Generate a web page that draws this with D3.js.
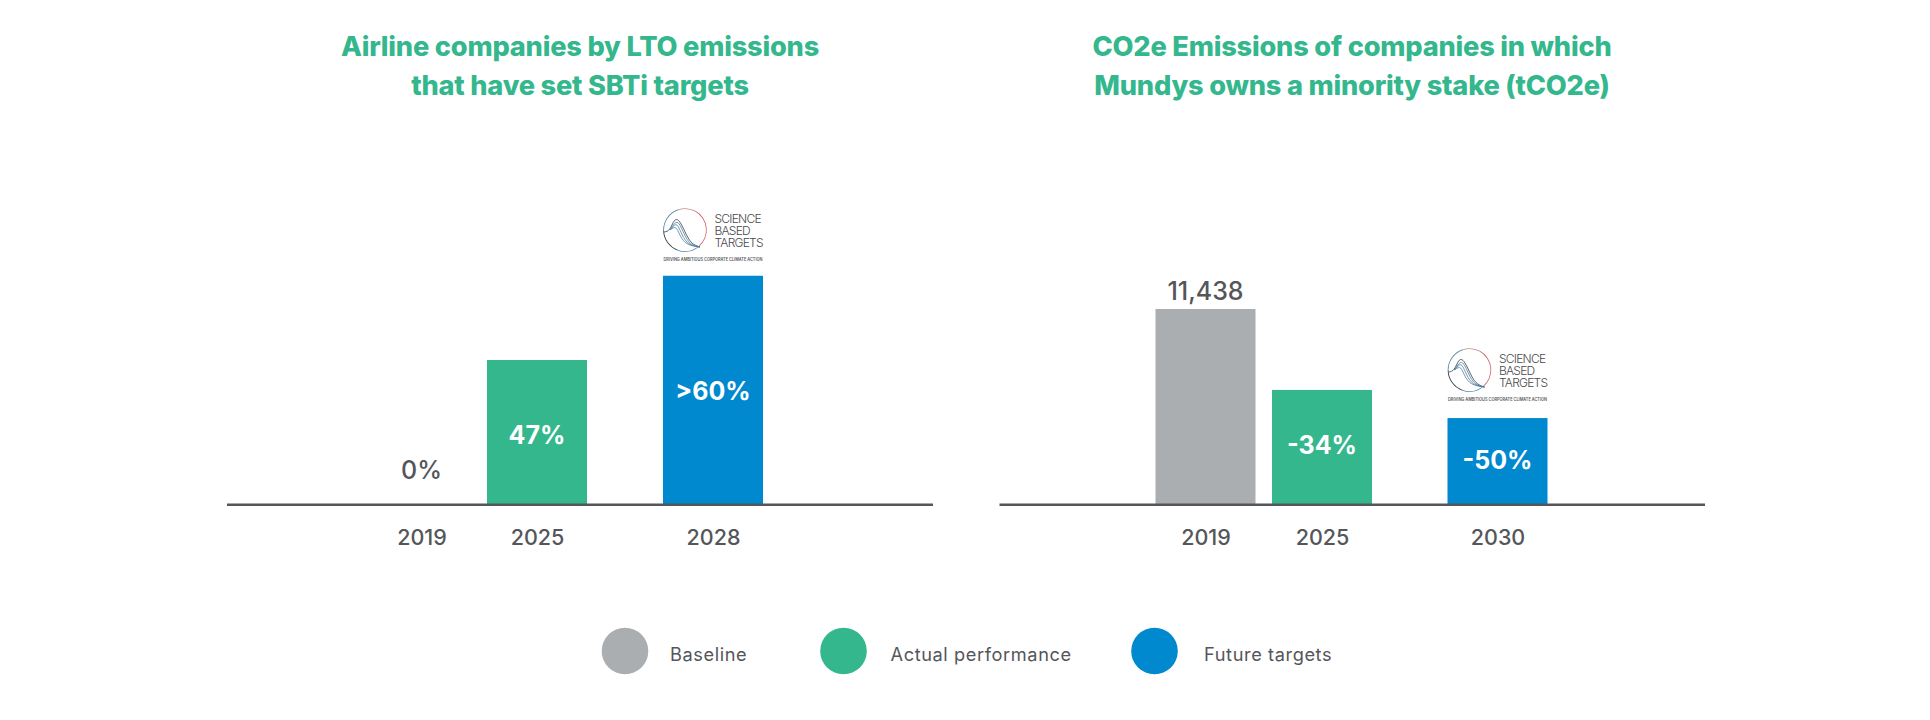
<!DOCTYPE html>
<html>
<head>
<meta charset="utf-8">
<script src="https://cdn.jsdelivr.net/npm/d3@7"></script>
<style>
  html, body { margin: 0; background: #fff; }
  text { font-family: Inter, sans-serif; }
</style>
</head>
<body>
<svg id="chart" width="1930" height="720"></svg>
<script>
// values
const leftYears = ["2019", "2025", "2028"];
const leftValues = [0, 47, 74.5]; // the >60% bar is drawn taller than its label says
const leftLabels = ["0%", "47%", ">60%"];
const leftKinds = ["Baseline", "Actual performance", "Future targets"];

const rightYears = ["2019", "2025", "2030"];
const rightValues = [11438, 6690, 5040];
const rightLabels = ["11,438", "-34%", "-50%"];
const rightKinds = ["Baseline", "Actual performance", "Future targets"];

const leftTitle = ["Airline companies by LTO emissions", "that have set SBTi targets"];
const rightTitle = ["CO2e Emissions of companies in which", "Mundys owns a minority stake (tCO2e)"];

const legendNames = ["Baseline", "Actual performance", "Future targets"];
const legendColors = ["#abaeb0", "#35b78e", "#0089cf"];

const GREEN = "#35b78e", TEXT = "#54565a";
const BASE_Y = 504, BAR_W = 100;

const svg = d3.select("#chart");
const color = d3.scaleOrdinal().domain(legendNames).range(legendColors);

// one panel: title, bars, labels, axis
function panel(opts) {
  const g = svg.append("g");
  const x = d3.scaleOrdinal().domain(opts.years).range(opts.centers);
  const y = d3.scaleLinear().domain(opts.yDomain).range([BASE_Y, opts.yTop]);
  const rows = opts.years.map((d, i) => ({ year: d, value: opts.values[i], label: opts.labels[i], kind: opts.kinds[i], dy: opts.labelDy[i] }));

  g.selectAll("text.title")
    .data(opts.title)
    .enter()
    .append("text")
    .attr("class", "title")
    .attr("x", opts.titleX)
    .attr("y", (d, i) => 56 + i * 39)
    .attr("text-anchor", "middle")
    .style("font-size", "27.2px")
    .style("font-weight", 800)
    .style("letter-spacing", "-0.2px")
    .style("fill", GREEN)
    .text(d => d);

  g.selectAll("rect")
    .data(rows)
    .enter()
    .append("rect")
    .attr("x", d => x(d.year) - BAR_W / 2)
    .attr("width", BAR_W)
    .attr("y", d => y(d.value))
    .attr("height", d => BASE_Y - y(d.value))
    .style("fill", d => color(d.kind));

  // grey baseline bars carry their label on top, the others inside
  g.selectAll("text.value")
    .data(rows)
    .enter()
    .append("text")
    .attr("class", "value")
    .attr("x", d => x(d.year))
    .attr("y", d => d.kind === "Baseline" ? y(d.value) - d.dy : (y(d.value) + BASE_Y) / 2 + d.dy)
    .attr("text-anchor", "middle")
    .style("font-size", "25px")
    .style("font-weight", d => d.kind === "Baseline" ? 500 : 700)
    .style("fill", d => d.kind === "Baseline" ? TEXT : "#fff")
    .text(d => d.label);

  const axis = g.append("g")
    .attr("transform", `translate(0,${BASE_Y})`)
    .call(d3.axisBottom(x).tickSize(0).tickPadding(26));
  axis.select(".domain").remove();
  axis.selectAll("text")
    .style("font-size", "21.5px")
    .style("font-weight", 500)
    .style("fill", TEXT);

  g.append("line")
    .attr("x1", opts.axisX[0]).attr("x2", opts.axisX[1])
    .attr("y1", BASE_Y + 0.7).attr("y2", BASE_Y + 0.7)
    .style("stroke", TEXT)
    .style("stroke-width", 2.4);

  logo(g, x(opts.years[2]) - 28, opts.logoY);
}

// science based targets mark, centred on the ring
function logo(parent, cx, cy) {
  const g = parent.append("g").attr("transform", `translate(${cx},${cy})`);
  const ring = d3.arc().innerRadius(21).outerRadius(21.8);
  const segments = [
    [-0.3, 0.5, "#c8868c"], [0.5, 2.45, "#d2606a"], [2.45, 3.5, "#4f89ab"],
    [3.5, 4.7, "#2c3a46"], [4.7, 5.98, "#4f7f9c"]
  ];
  g.selectAll("path.ring")
    .data(segments)
    .enter()
    .append("path")
    .attr("class", "ring")
    .attr("d", d => ring({ startAngle: d[0], endAngle: d[1] }))
    .style("fill", d => d[2]);

  const curve = d3.line().curve(d3.curveBasis);
  const strands = [
    [[-21, 2], [-15, 1], [-11, -11], [-6, -11], [0, 2], [6, 14], [15, 17]],
    [[-15, 0], [-10, -8], [-6, -8], [-1, 4], [5, 15], [15, 17]],
    [[-15, 0], [-10, -6], [-7, -5], [-3, 5], [3, 15], [15, 17]],
    [[-15, 0], [-11, -3], [-8, -2], [-5, 6], [1, 15], [15, 17]]
  ];
  g.selectAll("path.strand")
    .data(strands)
    .enter()
    .append("path")
    .attr("class", "strand")
    .attr("d", d => curve(d))
    .style("fill", "none")
    .style("stroke", (d, i) => i ? "#4f7f9c" : "#2c3a46")
    .style("stroke-width", 0.8);

  g.selectAll("text.name")
    .data(["SCIENCE", "BASED", "TARGETS"])
    .enter()
    .append("text")
    .attr("class", "name")
    .attr("x", 29.5)
    .attr("y", (d, i) => -7 + i * 12)
    .style("font-size", "12px")
    .style("font-weight", 300)
    .style("letter-spacing", "-0.75px")
    .style("fill", "#4a4a4d")
    .text(d => d);

  g.append("text")
    .attr("x", -21.5)
    .attr("y", 31)
    .attr("textLength", 99)
    .attr("lengthAdjust", "spacingAndGlyphs")
    .style("font-size", "4.6px")
    .style("font-weight", 600)
    .style("fill", "#55565a")
    .text("DRIVING AMBITIOUS CORPORATE CLIMATE ACTION");
}

panel({
  title: leftTitle, titleX: 580, years: leftYears, values: leftValues, labels: leftLabels, kinds: leftKinds,
  centers: [421.5, 537, 713], axisX: [227, 933], yDomain: [0, 47], yTop: 360, logoY: 230, labelDy: [25, 12, 10]
});
panel({
  title: rightTitle, titleX: 1352, years: rightYears, values: rightValues, labels: rightLabels, kinds: rightKinds,
  centers: [1205.5, 1322, 1497.5], axisX: [999.5, 1705], yDomain: [0, 11438], yTop: 309, logoY: 370, labelDy: [9, 7, 8]
});

// legend
const legend = svg.append("g");
const legendX = d3.scaleOrdinal().domain(legendNames).range([625, 843.5, 1154.5]);
legend.selectAll("circle")
  .data(legendNames)
  .enter()
  .append("circle")
  .attr("cx", d => legendX(d))
  .attr("cy", 651)
  .attr("r", 23.3)
  .style("fill", d => color(d));
legend.selectAll("text")
  .data(legendNames)
  .enter()
  .append("text")
  .attr("x", d => legendX(d) + 45 + (d === "Baseline" ? 0 : d === "Actual performance" ? 2 : 4.5))
  .attr("y", 661)
  .style("font-size", "18.2px")
  .style("letter-spacing", "0.6px")
  .style("fill", TEXT)
  .text(d => d);
</script>
</body>
</html>
